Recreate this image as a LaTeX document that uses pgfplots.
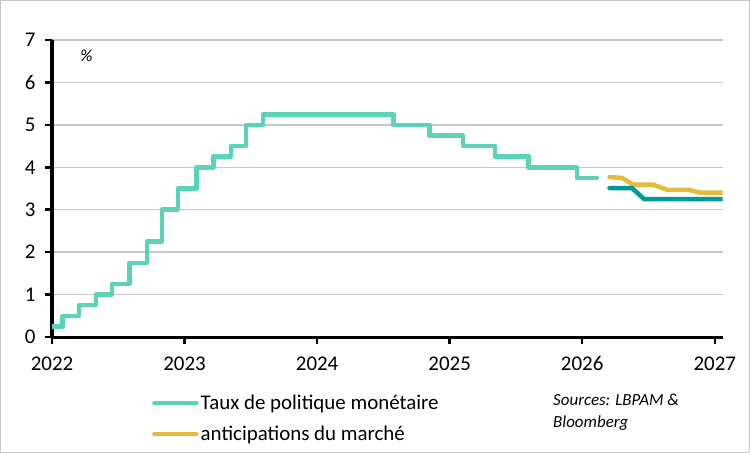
\documentclass[border=0pt]{standalone}
\usepackage{pgfplots}
\pgfplotsset{compat=1.18}
\usepackage{fontspec}
\setmainfont{Carlito}

\definecolor{tauxcol}{RGB}{90,211,184}
\definecolor{prevcol}{RGB}{0,153,153}
\definecolor{anticol}{RGB}{226,188,58}
\definecolor{gridcol}{RGB}{200,200,200}

\begin{document}
\begin{tikzpicture}
  % cadre du graphique
  \draw[gridcol, line width=1bp] (-51.5bp,-115.5bp) rectangle (697.5bp,336.5bp);
  \begin{axis}[
      name=ax,
      at={(0,0)}, anchor=south west,
      scale only axis,
      width=670.7bp, height=297bp,
      xmin=2022, xmax=2027.06,
      ymin=0, ymax=7,
      xtick={2022,2023,2024,2025,2026,2027},
      ytick={0,1,...,7},
      axis x line*=bottom,
      axis y line*=left,
      axis line style={line width=3bp, black, -},
      tick align=outside,
      major tick length=7bp,
      tick style={line width=2.5bp, black},
      ymajorgrids,
      major grid style={gridcol, line width=1.3bp},
      ticklabel style={font=\fontsize{21}{23}\selectfont},
      xticklabel style={yshift=-9bp},
      yticklabel style={xshift=-6bp},
      /pgf/number format/assume math mode=true,
      /pgf/number format/1000 sep={},
      xticklabel style={/pgf/number format/precision=0},
      legend cell align=left,
      legend style={at={(axis description cs:0,0)}, anchor=north west,
        xshift=100bp, yshift=-56bp, draw=none, fill=none,
        font=\fontsize{21}{23}\selectfont, row sep=11bp, inner sep=0pt},
      legend image code/.code={\draw[#1, line cap=round] (0bp,0bp) -- (42bp,0bp);},
      every axis plot/.append style={line width=4.5bp, line join=round, line cap=round},
    ]
    % Taux de politique monetaire
    \addplot[tauxcol, const plot] coordinates {
      (2022.000,0.25)(2022.080,0.50)(2022.204,0.75)(2022.332,1.00)(2022.453,1.25)
      (2022.583,1.75)(2022.717,2.25)(2022.830,3.00)(2022.949,3.50)(2023.092,4.00)
      (2023.217,4.25)(2023.351,4.50)(2023.464,5.00)(2023.590,5.25)(2024.576,5.00)
      (2024.848,4.75)(2025.102,4.50)(2025.343,4.25)(2025.595,4.00)(2025.960,3.75)
      (2026.111,3.75)
    };
    \addlegendentry{Taux de politique monétaire}
    % anticipations du marche
    \addplot[anticol] coordinates {
      (2026.206,3.77)(2026.300,3.75)(2026.385,3.59)(2026.536,3.59)(2026.639,3.47)
      (2026.802,3.47)(2026.891,3.40)(2027.062,3.40)
    };
    \addlegendentry{anticipations du marché}
    % prevision
    \addplot[prevcol, forget plot] coordinates {
      (2026.206,3.51)(2026.375,3.51)(2026.468,3.25)(2027.062,3.25)
    };
    \node[font=\fontsize{17}{19}\selectfont\itshape] at (axis cs:2022.26,6.62) {\%};
  \end{axis}
  \node[anchor=north west, align=left, inner sep=0pt,
        font=\fontsize{17}{22}\selectfont\itshape]
    at ([shift={(501bp,-57bp)}]ax.south west) {Sources: LBPAM \&\\Bloomberg};
\end{tikzpicture}
\end{document}
